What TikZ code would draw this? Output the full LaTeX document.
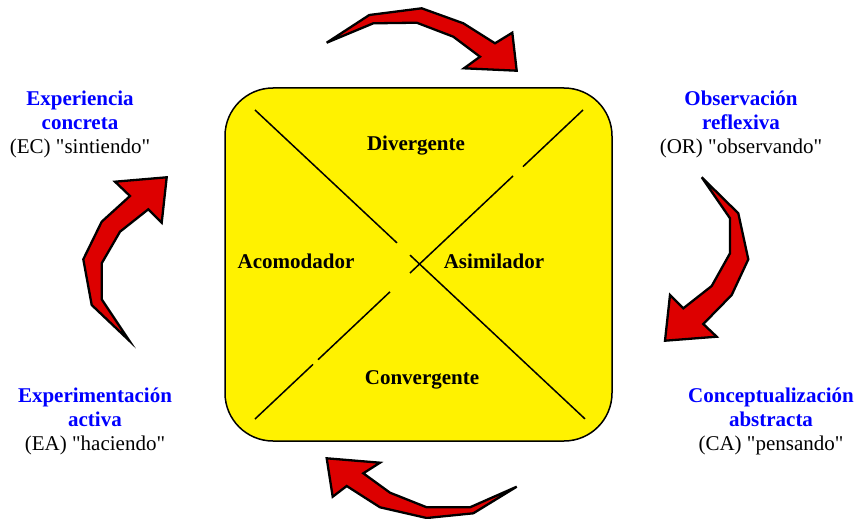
\documentclass[tikz,border=0pt]{standalone}
\usepackage{fontspec}
\setmainfont{Liberation Serif}[Ligatures=TeXOff]
\definecolor{boxyellow}{RGB}{255,242,0}
\definecolor{arrowred}{RGB}{221,0,0}
\definecolor{labelblue}{RGB}{0,0,255}
\begin{document}
\begin{tikzpicture}[x=1pt,y=-1pt,
  redarrow/.style={fill=arrowred,draw=black,line width=2.3pt,line join=miter},
  bigbox/.style={fill=boxyellow,draw=black,line width=1.5pt,rounded corners=48pt},
  diag/.style={draw=black,line width=1.5pt},
  stylelabel/.style={font=\fontsize{21}{24}\selectfont\bfseries,anchor=base,inner sep=0pt},
  phaselabel/.style={font=\fontsize{21}{24}\selectfont,align=center,inner sep=0pt}]
\useasboundingbox (0,0) rectangle (857,519);

% central box
\draw[bigbox] (225,88) rectangle (612,441);

% diagonals (with small gaps)
\draw[diag] (255,110) -- (397,242.9);
\draw[diag] (410,255.1) -- (585,418.9);
\draw[diag] (255,419) -- (313,364.4);
\draw[diag] (318,359.7) -- (390,291.8);
\draw[diag] (410,273) -- (513,176);
\draw[diag] (523,166.6) -- (583,110);

% style labels
\node[stylelabel] (div) at (416,150) {Divergente};
\node[stylelabel] (conv) at (422,384) {Convergente};
\node[stylelabel] (acom) at (296,268) {Acomodador};
\node[stylelabel] (asim) at (494,268) {Asimilador};

% phase labels
\node[phaselabel] (ec) at (80,124) {\textcolor{labelblue}{\textbf{Experiencia}}\\\textcolor{labelblue}{\textbf{concreta}}\\(EC) "sintiendo"};
\node[phaselabel] (or) at (741,124) {\textcolor{labelblue}{\textbf{Observación}}\\\textcolor{labelblue}{\textbf{reflexiva}}\\(OR) "observando"};
\node[phaselabel] (ea) at (95,421.5) {\textcolor{labelblue}{\textbf{Experimentación}}\\\textcolor{labelblue}{\textbf{activa}}\\(EA) "haciendo"};
\node[phaselabel] (ca) at (771,421.5) {\textcolor{labelblue}{\textbf{Conceptualización}}\\\textcolor{labelblue}{\textbf{abstracta}}\\(CA) "pensando"};

% curved red arrows
\draw[redarrow] (326.7,42.7) -- (369.3,15) -- (421.7,8.3) -- (463.3,23.3) -- (495,43.3) -- (512.3,32.7) -- (516.7,70.7) -- (464,68.3) -- (480,56.7) -- (453.3,36.7) -- (416.7,22.7) -- (373.3,23.3) -- cycle;
\draw[redarrow] (701.7,177.3) -- (738.3,213.3) -- (748.3,259.3) -- (731.7,295) -- (703.3,324) -- (716.7,336.7) -- (665,340.7) -- (670,295) -- (683.3,308.3) -- (711.7,286) -- (730,253.3) -- (730,218.3) -- cycle;
\draw[redarrow] (516.7,486.7) -- (470,507.3) -- (426.7,507.3) -- (390,492.7) -- (363.3,473.3) -- (380,462.7) -- (326.7,458.3) -- (332.7,496.7) -- (346.7,486) -- (380,507.3) -- (426.7,518) -- (473.3,513.3) -- cycle;
\draw[redarrow] (129.3,340.7) -- (91.7,305) -- (83.3,259.3) -- (101.7,221.7) -- (130,196) -- (115,181.7) -- (166.7,177.3) -- (161.7,222.7) -- (148.3,209.3) -- (120,231.7) -- (101.7,263.3) -- (101.7,299.3) -- cycle;
\end{tikzpicture}
\end{document}
